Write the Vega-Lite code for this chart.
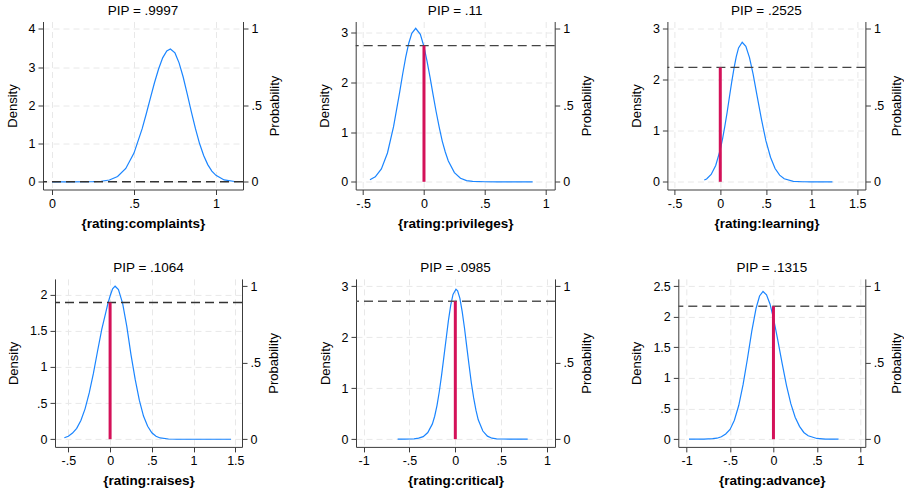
{
  "$schema": "https://vega.github.io/schema/vega-lite/v6.json",
  "autosize": {"type": "pad"},
  "padding": {"left": 6, "top": 3.5, "right": 0, "bottom": 0},
  "background": "white",
  "config": {
    "view": {"stroke": null},
    "font": "Liberation Sans",
    "axis": {
      "labelFont": "Liberation Sans", "titleFont": "Liberation Sans",
      "labelFontSize": 12.5, "titleFontSize": 13, "titleFontWeight": "normal",
      "labelColor": "#000", "titleColor": "#000",
      "domainColor": "#3c3c3c", "tickColor": "#3c3c3c", "tickSize": 5, "labelPadding": 3,
      "gridColor": "#e8e8e8", "gridDash": [6, 4], "grid": true,
      "labelExpr": "datum.value == 0 ? '0' : replace(toString(datum.value), '0.', '.')"
    },
    "axisX": {"titleFontWeight": "bold", "titleFontSize": 13.5, "labelAngle": 0, "titlePadding": 6.5},
    "axisLeft": {"labelAngle": 0, "titlePadding": 9},
    "axisRight": {"labelAngle": 0, "titlePadding": 7},
    "title": {"font": "Liberation Sans", "fontSize": 13.5, "fontWeight": "normal", "color": "#000", "anchor": "middle", "offset": 4}
  },
  "datasets": {
    "pip": [
      {"panel": "complaints", "p": 0.0003},
      {"panel": "privileges", "p": 0.89},
      {"panel": "learning", "p": 0.7475},
      {"panel": "raises", "p": 0.8936},
      {"panel": "critical", "p": 0.9015},
      {"panel": "advance", "p": 0.8685}
    ],
    "curves": [
      {"panel": "complaints", "x": 0, "d": 0},
      {"panel": "complaints", "x": 0.1, "d": 0},
      {"panel": "complaints", "x": 0.2, "d": 0.001},
      {"panel": "complaints", "x": 0.25, "d": 0.004},
      {"panel": "complaints", "x": 0.3, "d": 0.014},
      {"panel": "complaints", "x": 0.35, "d": 0.048},
      {"panel": "complaints", "x": 0.4, "d": 0.14},
      {"panel": "complaints", "x": 0.45, "d": 0.35},
      {"panel": "complaints", "x": 0.5, "d": 0.75},
      {"panel": "complaints", "x": 0.55, "d": 1.39},
      {"panel": "complaints", "x": 0.575, "d": 1.78},
      {"panel": "complaints", "x": 0.6, "d": 2.19},
      {"panel": "complaints", "x": 0.625, "d": 2.59},
      {"panel": "complaints", "x": 0.65, "d": 2.95},
      {"panel": "complaints", "x": 0.675, "d": 3.24},
      {"panel": "complaints", "x": 0.7, "d": 3.42},
      {"panel": "complaints", "x": 0.722, "d": 3.47},
      {"panel": "complaints", "x": 0.75, "d": 3.37},
      {"panel": "complaints", "x": 0.775, "d": 3.11},
      {"panel": "complaints", "x": 0.8, "d": 2.74},
      {"panel": "complaints", "x": 0.825, "d": 2.29},
      {"panel": "complaints", "x": 0.85, "d": 1.83},
      {"panel": "complaints", "x": 0.875, "d": 1.39},
      {"panel": "complaints", "x": 0.9, "d": 1.0},
      {"panel": "complaints", "x": 0.925, "d": 0.69},
      {"panel": "complaints", "x": 0.95, "d": 0.45},
      {"panel": "complaints", "x": 0.975, "d": 0.28},
      {"panel": "complaints", "x": 1.0, "d": 0.17},
      {"panel": "complaints", "x": 1.05, "d": 0.05},
      {"panel": "complaints", "x": 1.114, "d": 0.008},

      {"panel": "privileges", "x": -0.444, "d": 0.04},
      {"panel": "privileges", "x": -0.4, "d": 0.10},
      {"panel": "privileges", "x": -0.35, "d": 0.26},
      {"panel": "privileges", "x": -0.3, "d": 0.58},
      {"panel": "privileges", "x": -0.25, "d": 1.11},
      {"panel": "privileges", "x": -0.2, "d": 1.80},
      {"panel": "privileges", "x": -0.175, "d": 2.17},
      {"panel": "privileges", "x": -0.15, "d": 2.51},
      {"panel": "privileges", "x": -0.125, "d": 2.79},
      {"panel": "privileges", "x": -0.1, "d": 2.99},
      {"panel": "privileges", "x": -0.068, "d": 3.09},
      {"panel": "privileges", "x": -0.03, "d": 2.97},
      {"panel": "privileges", "x": 0, "d": 2.72},
      {"panel": "privileges", "x": 0.025, "d": 2.43},
      {"panel": "privileges", "x": 0.05, "d": 2.10},
      {"panel": "privileges", "x": 0.075, "d": 1.75},
      {"panel": "privileges", "x": 0.1, "d": 1.41},
      {"panel": "privileges", "x": 0.125, "d": 1.10},
      {"panel": "privileges", "x": 0.15, "d": 0.82},
      {"panel": "privileges", "x": 0.175, "d": 0.60},
      {"panel": "privileges", "x": 0.2, "d": 0.42},
      {"panel": "privileges", "x": 0.25, "d": 0.185},
      {"panel": "privileges", "x": 0.3, "d": 0.071},
      {"panel": "privileges", "x": 0.35, "d": 0.024},
      {"panel": "privileges", "x": 0.4, "d": 0.007},
      {"panel": "privileges", "x": 0.5, "d": 0.001},
      {"panel": "privileges", "x": 0.6, "d": 0},
      {"panel": "privileges", "x": 0.7, "d": 0},
      {"panel": "privileges", "x": 0.8, "d": 0},
      {"panel": "privileges", "x": 0.893, "d": 0},

      {"panel": "learning", "x": -0.175, "d": 0.034},
      {"panel": "learning", "x": -0.15, "d": 0.056},
      {"panel": "learning", "x": -0.1, "d": 0.143},
      {"panel": "learning", "x": -0.05, "d": 0.32},
      {"panel": "learning", "x": 0, "d": 0.63},
      {"panel": "learning", "x": 0.025, "d": 0.84},
      {"panel": "learning", "x": 0.05, "d": 1.09},
      {"panel": "learning", "x": 0.075, "d": 1.36},
      {"panel": "learning", "x": 0.1, "d": 1.66},
      {"panel": "learning", "x": 0.125, "d": 1.95},
      {"panel": "learning", "x": 0.15, "d": 2.22},
      {"panel": "learning", "x": 0.175, "d": 2.45},
      {"panel": "learning", "x": 0.2, "d": 2.62},
      {"panel": "learning", "x": 0.24, "d": 2.73},
      {"panel": "learning", "x": 0.28, "d": 2.65},
      {"panel": "learning", "x": 0.32, "d": 2.43},
      {"panel": "learning", "x": 0.36, "d": 2.10},
      {"panel": "learning", "x": 0.4, "d": 1.71},
      {"panel": "learning", "x": 0.45, "d": 1.23},
      {"panel": "learning", "x": 0.5, "d": 0.80},
      {"panel": "learning", "x": 0.55, "d": 0.48},
      {"panel": "learning", "x": 0.6, "d": 0.26},
      {"panel": "learning", "x": 0.65, "d": 0.13},
      {"panel": "learning", "x": 0.7, "d": 0.059},
      {"panel": "learning", "x": 0.8, "d": 0.009},
      {"panel": "learning", "x": 0.9, "d": 0.001},
      {"panel": "learning", "x": 1.0, "d": 0},
      {"panel": "learning", "x": 1.1, "d": 0},
      {"panel": "learning", "x": 1.228, "d": 0},

      {"panel": "raises", "x": -0.548, "d": 0.021},
      {"panel": "raises", "x": -0.5, "d": 0.042},
      {"panel": "raises", "x": -0.45, "d": 0.085},
      {"panel": "raises", "x": -0.4, "d": 0.15},
      {"panel": "raises", "x": -0.35, "d": 0.26},
      {"panel": "raises", "x": -0.3, "d": 0.42},
      {"panel": "raises", "x": -0.25, "d": 0.64},
      {"panel": "raises", "x": -0.2, "d": 0.91},
      {"panel": "raises", "x": -0.15, "d": 1.22},
      {"panel": "raises", "x": -0.1, "d": 1.52},
      {"panel": "raises", "x": -0.05, "d": 1.76},
      {"panel": "raises", "x": -0.028, "d": 1.87},
      {"panel": "raises", "x": 0, "d": 1.98},
      {"panel": "raises", "x": 0.03, "d": 2.08},
      {"panel": "raises", "x": 0.06, "d": 2.116},
      {"panel": "raises", "x": 0.1, "d": 2.07},
      {"panel": "raises", "x": 0.15, "d": 1.88},
      {"panel": "raises", "x": 0.2, "d": 1.56},
      {"panel": "raises", "x": 0.25, "d": 1.17},
      {"panel": "raises", "x": 0.3, "d": 0.83},
      {"panel": "raises", "x": 0.35, "d": 0.54},
      {"panel": "raises", "x": 0.4, "d": 0.32},
      {"panel": "raises", "x": 0.45, "d": 0.18},
      {"panel": "raises", "x": 0.5, "d": 0.09},
      {"panel": "raises", "x": 0.55, "d": 0.042},
      {"panel": "raises", "x": 0.6, "d": 0.018},
      {"panel": "raises", "x": 0.7, "d": 0.003},
      {"panel": "raises", "x": 0.8, "d": 0},
      {"panel": "raises", "x": 1.0, "d": 0},
      {"panel": "raises", "x": 1.2, "d": 0},
      {"panel": "raises", "x": 1.448, "d": 0},

      {"panel": "critical", "x": -0.629, "d": 0},
      {"panel": "critical", "x": -0.55, "d": 0.002},
      {"panel": "critical", "x": -0.5, "d": 0.004},
      {"panel": "critical", "x": -0.45, "d": 0.008},
      {"panel": "critical", "x": -0.4, "d": 0.02},
      {"panel": "critical", "x": -0.35, "d": 0.05},
      {"panel": "critical", "x": -0.3, "d": 0.13},
      {"panel": "critical", "x": -0.25, "d": 0.30},
      {"panel": "critical", "x": -0.225, "d": 0.45},
      {"panel": "critical", "x": -0.2, "d": 0.66},
      {"panel": "critical", "x": -0.175, "d": 0.93},
      {"panel": "critical", "x": -0.15, "d": 1.25},
      {"panel": "critical", "x": -0.125, "d": 1.61},
      {"panel": "critical", "x": -0.1, "d": 1.97},
      {"panel": "critical", "x": -0.075, "d": 2.33},
      {"panel": "critical", "x": -0.05, "d": 2.63},
      {"panel": "critical", "x": -0.025, "d": 2.84},
      {"panel": "critical", "x": 0.007, "d": 2.94},
      {"panel": "critical", "x": 0.025, "d": 2.91},
      {"panel": "critical", "x": 0.05, "d": 2.76},
      {"panel": "critical", "x": 0.075, "d": 2.50},
      {"panel": "critical", "x": 0.1, "d": 2.18},
      {"panel": "critical", "x": 0.125, "d": 1.81},
      {"panel": "critical", "x": 0.15, "d": 1.45},
      {"panel": "critical", "x": 0.175, "d": 1.10},
      {"panel": "critical", "x": 0.2, "d": 0.81},
      {"panel": "critical", "x": 0.225, "d": 0.57},
      {"panel": "critical", "x": 0.25, "d": 0.38},
      {"panel": "critical", "x": 0.3, "d": 0.16},
      {"panel": "critical", "x": 0.35, "d": 0.06},
      {"panel": "critical", "x": 0.4, "d": 0.02},
      {"panel": "critical", "x": 0.45, "d": 0.008},
      {"panel": "critical", "x": 0.5, "d": 0.004},
      {"panel": "critical", "x": 0.6, "d": 0.001},
      {"panel": "critical", "x": 0.789, "d": 0},

      {"panel": "advance", "x": -0.973, "d": 0},
      {"panel": "advance", "x": -0.9, "d": 0},
      {"panel": "advance", "x": -0.8, "d": 0.002},
      {"panel": "advance", "x": -0.7, "d": 0.008},
      {"panel": "advance", "x": -0.65, "d": 0.016},
      {"panel": "advance", "x": -0.6, "d": 0.04},
      {"panel": "advance", "x": -0.55, "d": 0.085},
      {"panel": "advance", "x": -0.5, "d": 0.16},
      {"panel": "advance", "x": -0.45, "d": 0.31},
      {"panel": "advance", "x": -0.4, "d": 0.55},
      {"panel": "advance", "x": -0.35, "d": 0.89},
      {"panel": "advance", "x": -0.3, "d": 1.31},
      {"panel": "advance", "x": -0.25, "d": 1.76},
      {"panel": "advance", "x": -0.2, "d": 2.14},
      {"panel": "advance", "x": -0.16, "d": 2.34},
      {"panel": "advance", "x": -0.12, "d": 2.414},
      {"panel": "advance", "x": -0.08, "d": 2.36},
      {"panel": "advance", "x": -0.04, "d": 2.21},
      {"panel": "advance", "x": 0, "d": 1.98},
      {"panel": "advance", "x": 0.05, "d": 1.62},
      {"panel": "advance", "x": 0.1, "d": 1.24},
      {"panel": "advance", "x": 0.15, "d": 0.88},
      {"panel": "advance", "x": 0.2, "d": 0.58},
      {"panel": "advance", "x": 0.25, "d": 0.36},
      {"panel": "advance", "x": 0.3, "d": 0.21},
      {"panel": "advance", "x": 0.35, "d": 0.11},
      {"panel": "advance", "x": 0.4, "d": 0.057},
      {"panel": "advance", "x": 0.5, "d": 0.012},
      {"panel": "advance", "x": 0.6, "d": 0.002},
      {"panel": "advance", "x": 0.75, "d": 0}
    ]
  },
  "bounds": "flush",
  "spacing": 257.4,
  "vconcat": [
    {
      "bounds": "flush",
      "spacing": 112.7,
      "hconcat": [
        {
          "width": 200, "height": 168, "title": "PIP = .9997",
          "layer": [
            {"data": {"name": "curves"}, "transform": [{"filter": "datum.panel == 'complaints'"}],
             "mark": {"type": "line", "color": "#1a85ff", "strokeWidth": 1.2},
             "encoding": {
               "x": {"field": "x", "type": "quantitative", "scale": {"domain": [-0.055, 1.165], "nice": false, "zero": false}, "axis": {"title": "{rating:complaints}", "values": [0, 0.5, 1]}},
               "y": {"field": "d", "type": "quantitative", "scale": {"domain": [-0.201, 4.191], "nice": false, "zero": false}, "axis": {"title": "Density", "values": [0, 1, 2, 3, 4]}}
             }},
            {"data": {"name": "pip"}, "transform": [{"filter": "datum.panel == 'complaints'"}],
             "layer": [
               {"mark": {"type": "rule", "color": "#333333", "strokeDash": [9, 5], "strokeWidth": 1.3},
                "encoding": {"y": {"field": "p", "type": "quantitative", "scale": {"domain": [-0.0503, 1.0477], "nice": false, "zero": false}, "axis": {"title": "Probability", "orient": "right", "values": [0, 0.5, 1], "grid": false, "titleAngle": 270, "titleBaseline": "top"}}}},
               {"mark": {"type": "rule", "color": "#d41159", "strokeWidth": 3},
                "encoding": {"x": {"datum": 0, "type": "quantitative"}, "y": {"field": "p", "type": "quantitative"}, "y2": {"datum": 0}}}
             ]}
          ],
          "resolve": {"scale": {"y": "independent"}}
        },
        {
          "width": 199, "height": 168, "title": "PIP = .11",
          "layer": [
            {"data": {"name": "curves"}, "transform": [{"filter": "datum.panel == 'privileges'"}],
             "mark": {"type": "line", "color": "#1a85ff", "strokeWidth": 1.2},
             "encoding": {
               "x": {"field": "x", "type": "quantitative", "scale": {"domain": [-0.561, 1.074], "nice": false, "zero": false}, "axis": {"title": "{rating:privileges}", "values": [-0.5, 0, 0.5, 1]}},
               "y": {"field": "d", "type": "quantitative", "scale": {"domain": [-0.155, 3.227], "nice": false, "zero": false}, "axis": {"title": "Density", "values": [0, 1, 2, 3]}}
             }},
            {"data": {"name": "pip"}, "transform": [{"filter": "datum.panel == 'privileges'"}],
             "layer": [
               {"mark": {"type": "rule", "color": "#444444", "strokeDash": [9, 5], "strokeWidth": 1.3},
                "encoding": {"y": {"field": "p", "type": "quantitative", "scale": {"domain": [-0.0503, 1.0477], "nice": false, "zero": false}, "axis": {"title": "Probability", "orient": "right", "values": [0, 0.5, 1], "grid": false, "titleAngle": 270, "titleBaseline": "top"}}}},
               {"mark": {"type": "rule", "color": "#d41159", "strokeWidth": 3},
                "encoding": {"x": {"datum": 0, "type": "quantitative"}, "y": {"field": "p", "type": "quantitative"}, "y2": {"datum": 0}}}
             ]}
          ],
          "resolve": {"scale": {"y": "independent"}}
        },
        {
          "width": 198, "height": 168, "title": "PIP = .2525",
          "layer": [
            {"data": {"name": "curves"}, "transform": [{"filter": "datum.panel == 'learning'"}],
             "mark": {"type": "line", "color": "#1a85ff", "strokeWidth": 1.2},
             "encoding": {
               "x": {"field": "x", "type": "quantitative", "scale": {"domain": [-0.579, 1.589], "nice": false, "zero": false}, "axis": {"title": "{rating:learning}", "values": [-0.5, 0, 0.5, 1, 1.5]}},
               "y": {"field": "d", "type": "quantitative", "scale": {"domain": [-0.151, 3.137], "nice": false, "zero": false}, "axis": {"title": "Density", "values": [0, 1, 2, 3]}}
             }},
            {"data": {"name": "pip"}, "transform": [{"filter": "datum.panel == 'learning'"}],
             "layer": [
               {"mark": {"type": "rule", "color": "#444444", "strokeDash": [9, 5], "strokeWidth": 1.3},
                "encoding": {"y": {"field": "p", "type": "quantitative", "scale": {"domain": [-0.0503, 1.0477], "nice": false, "zero": false}, "axis": {"title": "Probability", "orient": "right", "values": [0, 0.5, 1], "grid": false, "titleAngle": 270, "titleBaseline": "top"}}}},
               {"mark": {"type": "rule", "color": "#d41159", "strokeWidth": 3},
                "encoding": {"x": {"datum": 0, "type": "quantitative"}, "y": {"field": "p", "type": "quantitative"}, "y2": {"datum": 0}}}
             ]}
          ],
          "resolve": {"scale": {"y": "independent"}}
        }
      ]
    },
    {
      "bounds": "flush",
      "spacing": 0,
      "hconcat": [
        {"width": 12, "height": 168, "data": {"values": [{"a": 1}]}, "mark": {"type": "point", "opacity": 0}, "encoding": {}},
        {
          "bounds": "flush",
          "spacing": 114,
          "hconcat": [
            {
              "width": 187, "height": 168, "title": "PIP = .1064",
              "layer": [
                {"data": {"name": "curves"}, "transform": [{"filter": "datum.panel == 'raises'"}],
                 "mark": {"type": "line", "color": "#1a85ff", "strokeWidth": 1.2},
                 "encoding": {
                   "x": {"field": "x", "type": "quantitative", "scale": {"domain": [-0.66, 1.58], "nice": false, "zero": false}, "axis": {"title": "{rating:raises}", "values": [-0.5, 0, 0.5, 1, 1.5]}},
                   "y": {"field": "d", "type": "quantitative", "scale": {"domain": [-0.106, 2.217], "nice": false, "zero": false}, "axis": {"title": "Density", "values": [0, 0.5, 1, 1.5, 2]}}
                 }},
                {"data": {"name": "pip"}, "transform": [{"filter": "datum.panel == 'raises'"}],
                 "layer": [
                   {"mark": {"type": "rule", "color": "#333333", "strokeDash": [9, 5], "strokeWidth": 1.3},
                    "encoding": {"y": {"field": "p", "type": "quantitative", "scale": {"domain": [-0.0503, 1.0477], "nice": false, "zero": false}, "axis": {"title": "Probability", "orient": "right", "values": [0, 0.5, 1], "grid": false, "titleAngle": 270, "titleBaseline": "top"}}}},
                   {"mark": {"type": "rule", "color": "#d41159", "strokeWidth": 3},
                    "encoding": {"x": {"datum": 0, "type": "quantitative"}, "y": {"field": "p", "type": "quantitative"}, "y2": {"datum": 0}}}
                 ]}
              ],
              "resolve": {"scale": {"y": "independent"}}
            },
            {
              "bounds": "flush",
              "spacing": 123.3,
              "hconcat": [
                {
                  "width": 199, "height": 168, "title": "PIP = .0985",
                  "layer": [
                    {"data": {"name": "curves"}, "transform": [{"filter": "datum.panel == 'critical'"}],
                     "mark": {"type": "line", "color": "#1a85ff", "strokeWidth": 1.2},
                     "encoding": {
                       "x": {"field": "x", "type": "quantitative", "scale": {"domain": [-1.083, 1.087], "nice": false, "zero": false}, "axis": {"title": "{rating:critical}", "values": [-1, -0.5, 0, 0.5, 1]}},
                       "y": {"field": "d", "type": "quantitative", "scale": {"domain": [-0.151, 3.143], "nice": false, "zero": false}, "axis": {"title": "Density", "values": [0, 1, 2, 3]}}
                     }},
                    {"data": {"name": "pip"}, "transform": [{"filter": "datum.panel == 'critical'"}],
                     "layer": [
                       {"mark": {"type": "rule", "color": "#555555", "strokeDash": [9, 5], "strokeWidth": 1.4},
                        "encoding": {"y": {"field": "p", "type": "quantitative", "scale": {"domain": [-0.0503, 1.0477], "nice": false, "zero": false}, "axis": {"title": "Probability", "orient": "right", "values": [0, 0.5, 1], "grid": false, "titleAngle": 270, "titleBaseline": "top"}}}},
                       {"mark": {"type": "rule", "color": "#d41159", "strokeWidth": 3},
                        "encoding": {"x": {"datum": 0, "type": "quantitative"}, "y": {"field": "p", "type": "quantitative"}, "y2": {"datum": 0}}}
                     ]}
                  ],
                  "resolve": {"scale": {"y": "independent"}}
                },
                {
                  "width": 187, "height": 168, "title": "PIP = .1315",
                  "layer": [
                    {"data": {"name": "curves"}, "transform": [{"filter": "datum.panel == 'advance'"}],
                     "mark": {"type": "line", "color": "#1a85ff", "strokeWidth": 1.2},
                     "encoding": {
                       "x": {"field": "x", "type": "quantitative", "scale": {"domain": [-1.096, 1.058], "nice": false, "zero": false}, "axis": {"title": "{rating:advance}", "values": [-1, -0.5, 0, 0.5, 1]}},
                       "y": {"field": "d", "type": "quantitative", "scale": {"domain": [-0.126, 2.619], "nice": false, "zero": false}, "axis": {"title": "Density", "values": [0, 0.5, 1, 1.5, 2, 2.5]}}
                     }},
                    {"data": {"name": "pip"}, "transform": [{"filter": "datum.panel == 'advance'"}],
                     "layer": [
                       {"mark": {"type": "rule", "color": "#555555", "strokeDash": [9, 5], "strokeWidth": 1.4},
                        "encoding": {"y": {"field": "p", "type": "quantitative", "scale": {"domain": [-0.0503, 1.0477], "nice": false, "zero": false}, "axis": {"title": "Probability", "orient": "right", "values": [0, 0.5, 1], "grid": false, "titleAngle": 270, "titleBaseline": "top"}}}},
                       {"mark": {"type": "rule", "color": "#d41159", "strokeWidth": 3},
                        "encoding": {"x": {"datum": 0, "type": "quantitative"}, "y": {"field": "p", "type": "quantitative"}, "y2": {"datum": 0}}}
                     ]}
                  ],
                  "resolve": {"scale": {"y": "independent"}}
                }
              ]
            }
          ]
        }
      ]
    }
  ]
}
